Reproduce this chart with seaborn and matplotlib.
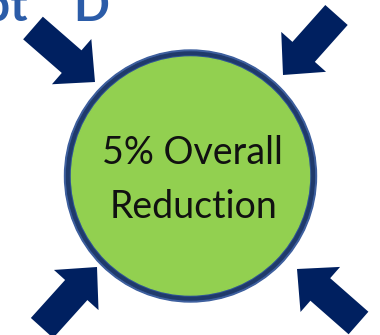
import matplotlib
matplotlib.use("Agg")
import matplotlib.pyplot as plt
from matplotlib.patches import Circle, FancyArrow
import seaborn as sns

# Content
title_words = ["Concept", "D"]
reduction_pct = 5
center_lines = [f"{reduction_pct}% Overall", "Reduction"]

sns.set_theme(style="white")
plt.rcParams["font.family"] = ["Lato", "DejaVu Sans"]

W, H = 380, 335
fig = plt.figure(figsize=(W / 100, H / 100), dpi=100)
ax = fig.add_axes([0, 0, 1, 1])
ax.set_xlim(0, W)
ax.set_ylim(H, 0)
ax.set_axis_off()

navy = "#002060"
green = "#92D050"
heading_blue = "#2B5CA8"

# Heading, running off the top-left of the canvas
ax.text(28, 21, title_words[0], ha="right", va="baseline", fontsize=34,
        fontweight="bold", color=heading_blue)
ax.text(73, 21, title_words[1], ha="left", va="baseline", fontsize=34,
        fontweight="bold", color=heading_blue)

# Central disc with a layered blue ring
cx, cy, r = 190.5, 176, 126
ax.add_patch(Circle((cx, cy), r, color="#3D5F9E", zorder=2))
ax.add_patch(Circle((cx, cy), r - 2, color="#1F3A6B", zorder=3))
ax.add_patch(Circle((cx, cy), r - 6, color="#2F5597", zorder=4))
ax.add_patch(Circle((cx, cy), r - 7, color=green, zorder=5))

ax.text(cx + 2, 164, center_lines[0], ha="center", va="baseline", fontsize=27,
        color="#111111", zorder=6)
ax.text(cx + 3, 218, center_lines[1], ha="center", va="baseline", fontsize=27,
        color="#111111", zorder=6)

# Four arrows pointing inward: (tail centre, tip)
arrows = [((33, 28), (95, 82)),
          ((336.5, 15), (283, 75)),
          ((42, 328), (97, 267)),
          ((358.5, 323), (297, 269))]
for (x0, y0), (x1, y1) in arrows:
    ax.add_patch(FancyArrow(x0, y0, x1 - x0, y1 - y0, width=30,
                            head_width=60, head_length=31,
                            length_includes_head=True, color=navy,
                            linewidth=0, zorder=7))

fig.savefig("out.png", dpi=100)
